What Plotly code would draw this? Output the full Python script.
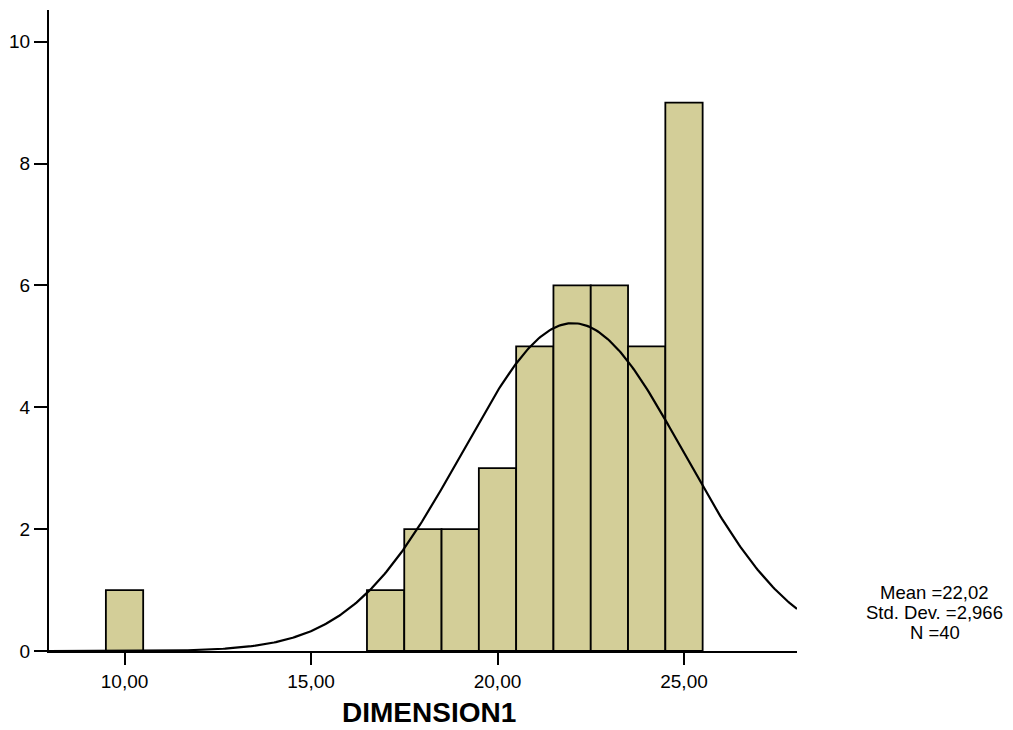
import numpy as np
import plotly.graph_objects as go

# Histogram of DIMENSION1 (bin width 1, centred on integers)
bin_centers = [10, 17, 18, 19, 20, 21, 22, 23, 24, 25]
bin_counts = [1, 1, 2, 2, 3, 5, 6, 6, 5, 9]
bin_width = 1.0

# Summary statistics shown beside the chart
mean_val = 22.02
std_val = 2.966
n_val = 40

x_ticks = [10, 15, 20, 25]
x_tick_text = ["10,00", "15,00", "20,00", "25,00"]
y_ticks = [0, 2, 4, 6, 8, 10]

x_range = [7.975, 28.03]
y_range = [0, 10.52]

# Fitted normal curve scaled to counts
xs = np.linspace(x_range[0], x_range[1], 400)
ys = n_val * bin_width / (std_val * np.sqrt(2 * np.pi)) * np.exp(-((xs - mean_val) ** 2) / (2 * std_val ** 2))

fig = go.Figure()
fig.add_trace(go.Bar(
    x=bin_centers, y=bin_counts, width=bin_width,
    marker=dict(color="#D3CE98", line=dict(color="black", width=1.8)),
    hoverinfo="skip",
))
fig.add_trace(go.Scatter(
    x=xs, y=ys, mode="lines",
    line=dict(color="black", width=2.2),
    hoverinfo="skip",
))

font_family = "Liberation Sans, Arial, sans-serif"

# plot-area geometry in pixels, used to place the side annotations
L, R, T, B = 47, 797, 9.5, 651.5


def px_x(px):
    return (px - L) / (R - L)


def px_y(py):
    return (B - py) / (B - T)


def comma(v, nd):
    return f"{v:.{nd}f}".replace(".", ",")


stat_lines = [
    f"Mean ={comma(mean_val, 2)}",
    f"Std. Dev. ={comma(std_val, 3)}",
    f"N ={n_val}",
]
stat_y = [593, 613, 633]

annotations = [
    dict(
        text="<b>DIMENSION1</b>", x=px_x(428.5), y=px_y(713), xref="paper", yref="paper",
        xanchor="center", yanchor="middle", showarrow=False,
        font=dict(size=28, family=font_family, color="black"),
    )
]
for line, yy in zip(stat_lines, stat_y):
    annotations.append(dict(
        text=line, x=px_x(935), y=px_y(yy), xref="paper", yref="paper",
        xanchor="center", yanchor="middle", showarrow=False,
        font=dict(size=18.5, family=font_family, color="black"),
    ))

fig.update_layout(
    width=1013, height=730,
    margin=dict(l=L, r=1013 - R, t=T, b=730 - B),
    paper_bgcolor="white", plot_bgcolor="white",
    showlegend=False,
    font=dict(family=font_family, color="black", size=19),
    xaxis=dict(
        range=x_range, tickvals=x_ticks, ticktext=x_tick_text,
        showline=True, linecolor="black", linewidth=2,
        ticks="outside", ticklen=12, tickwidth=2, tickcolor="black",
        showgrid=False, zeroline=False,
        tickfont=dict(size=19, family=font_family),
    ),
    yaxis=dict(
        range=y_range, tickvals=y_ticks,
        showline=True, linecolor="black", linewidth=2,
        ticks="outside", ticklen=13, tickwidth=2, tickcolor="black",
        showgrid=False, zeroline=False,
        tickfont=dict(size=19, family=font_family),
    ),
    annotations=annotations,
)

fig.write_html("out.html")
